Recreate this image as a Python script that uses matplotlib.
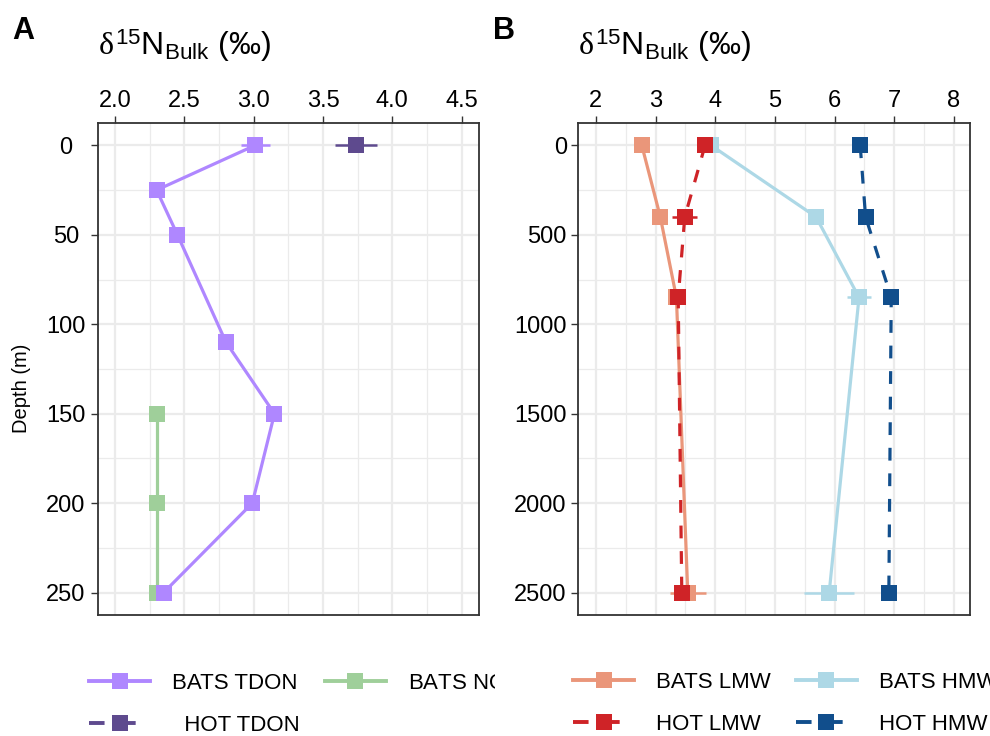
import matplotlib
matplotlib.use("Agg")
import matplotlib.pyplot as plt
from matplotlib.lines import Line2D
from matplotlib.transforms import Bbox
from matplotlib.ticker import MultipleLocator, FormatStrFormatter

plt.rcParams['font.family'] = ['Liberation Sans', 'DejaVu Sans']
plt.rcParams['mathtext.fontset'] = 'custom'
plt.rcParams['mathtext.rm'] = 'Liberation Sans'
plt.rcParams['mathtext.it'] = 'Liberation Serif'

# ---- panel A data (depth in m, d15N in permil) ----
bats_tdon_depth = [0, 25, 50, 110, 150, 200, 250]
bats_tdon_d15n = [3.01, 2.30, 2.45, 2.80, 3.15, 2.99, 2.35]
bats_tdon_err = [0.105, 0.0, 0.0, 0.02, 0.0, 0.02, 0.0]

bats_no3_depth = [150, 200, 250]
bats_no3_d15n = [2.30, 2.30, 2.30]
bats_no3_err = [0.0, 0.0, 0.0]

hot_tdon_depth = [0]
hot_tdon_d15n = [3.74]
hot_tdon_err = [0.15]

# ---- panel B data ----
mw_depth = [0, 400, 850, 2500]
bats_lmw = [2.77, 3.08, 3.35, 3.54]
bats_lmw_err = [0.0, 0.0, 0.0, 0.30]
hot_lmw = [3.83, 3.49, 3.38, 3.44]
hot_lmw_err = [0.0, 0.21, 0.03, 0.05]
bats_hmw = [3.93, 5.69, 6.41, 5.91]
bats_hmw_err = [0.0, 0.0, 0.20, 0.42]
hot_hmw = [6.43, 6.52, 6.95, 6.91]
hot_hmw_err = [0.0, 0.0, 0.0, 0.10]

c_bats_tdon = '#AF87FF'
c_hot_tdon = '#5E4A8E'
c_bats_no3 = '#9FCF9A'
c_bats_lmw = '#EA967A'
c_hot_lmw = '#CF2327'
c_bats_hmw = '#ADD8E6'
c_hot_hmw = '#114E8C'

dash = (0, (4, 4))
lw = 2.3
ms = 12

fig = plt.figure(figsize=(9.9, 7.36), dpi=100)
axA = fig.add_axes([0.0987, 0.1644, 0.3851, 0.6685])
axB = fig.add_axes([0.5838, 0.1644, 0.3960, 0.6685])


def series(ax, x, y, err, color, ls):
    ax.plot(x, y, color=color, lw=lw, ls=ls, zorder=2)
    ax.errorbar(x, y, xerr=err, fmt='none', ecolor=color, elinewidth=1.8, capsize=0, zorder=3)


def points(ax, x, y, color):
    ax.plot(x, y, ls='none', marker='s', ms=ms, mew=0, color=color, zorder=4)


series(axA, bats_no3_d15n, bats_no3_depth, bats_no3_err, c_bats_no3, '-')
series(axA, bats_tdon_d15n, bats_tdon_depth, bats_tdon_err, c_bats_tdon, '-')
series(axA, hot_tdon_d15n, hot_tdon_depth, hot_tdon_err, c_hot_tdon, dash)
points(axA, bats_no3_d15n, bats_no3_depth, c_bats_no3)
points(axA, bats_tdon_d15n, bats_tdon_depth, c_bats_tdon)
points(axA, hot_tdon_d15n, hot_tdon_depth, c_hot_tdon)

series(axB, bats_lmw, mw_depth, bats_lmw_err, c_bats_lmw, '-')
series(axB, bats_hmw, mw_depth, bats_hmw_err, c_bats_hmw, '-')
series(axB, hot_lmw, mw_depth, hot_lmw_err, c_hot_lmw, dash)
series(axB, hot_hmw, mw_depth, hot_hmw_err, c_hot_hmw, dash)
points(axB, bats_lmw, mw_depth, c_bats_lmw)
points(axB, bats_hmw, mw_depth, c_bats_hmw)
points(axB, hot_lmw, mw_depth, c_hot_lmw)
points(axB, hot_hmw, mw_depth, c_hot_hmw)

axA.set_xlim(1.875, 4.625)
axA.set_ylim(262.5, -12.5)
axA.xaxis.set_major_locator(MultipleLocator(0.5))
axA.xaxis.set_minor_locator(MultipleLocator(0.25))
axA.yaxis.set_major_locator(MultipleLocator(50))
axA.yaxis.set_minor_locator(MultipleLocator(25))
axA.xaxis.set_major_formatter(FormatStrFormatter('%.1f'))
axA.set_ylabel('Depth (m)', fontsize=14.5)
axA.yaxis.set_label_coords(-0.176, 0.461)

axB.set_xlim(1.70, 8.27)
axB.set_ylim(2625, -125)
axB.xaxis.set_major_locator(MultipleLocator(1))
axB.xaxis.set_minor_locator(MultipleLocator(0.5))
axB.yaxis.set_major_locator(MultipleLocator(500))
axB.yaxis.set_minor_locator(MultipleLocator(250))

title = r'$\delta^{15}\mathrm{N}_{\mathrm{Bulk}}$ (‰)'
for ax, letter in [(axA, 'A'), (axB, 'B')]:
    ax.grid(which='major', color='#EBEBEB', lw=1.6, zorder=0)
    ax.grid(which='minor', color='#EBEBEB', lw=0.9, zorder=0)
    ax.set_axisbelow(True)
    ax.xaxis.tick_top()
    ax.tick_params(which='major', labelsize=17, length=5, width=1, color='#333333', pad=3)
    ax.tick_params(which='minor', length=0)
    for s in ax.spines.values():
        s.set_color('#333333')
        s.set_linewidth(1.3)
    x0 = ax.get_position().x0
    fig.text(x0, 0.938, title, fontsize=23, ha='left', va='center')
    fig.text(x0 - 0.086, 0.958, letter, fontsize=22, fontweight='bold', ha='left', va='center')

# panel A depth labels are centred under each other
axA.tick_params(axis='y', pad=17.8)
for t in axA.get_yticklabels():
    t.set_ha('center')

hA = [Line2D([], [], color=c_bats_tdon, lw=2.8, marker='s', ms=ms, mew=0),
      Line2D([], [], color=c_hot_tdon, lw=2.8, ls=dash, marker='s', ms=ms, mew=0),
      Line2D([], [], color=c_bats_no3, lw=2.8, marker='s', ms=ms, mew=0)]
lA = ['BATS TDON', '  HOT TDON', r'BATS NO$_3^-$']
hB = [Line2D([], [], color=c_bats_lmw, lw=2.8, marker='s', ms=ms, mew=0),
      Line2D([], [], color=c_hot_lmw, lw=2.8, ls=dash, marker='s', ms=ms, mew=0),
      Line2D([], [], color=c_bats_hmw, lw=2.8, marker='s', ms=ms, mew=0),
      Line2D([], [], color=c_hot_hmw, lw=2.8, ls=dash, marker='s', ms=ms, mew=0)]
lB = ['BATS LMW', 'HOT LMW', 'BATS HMW', 'HOT HMW']

kw = dict(loc='upper left', ncol=2, frameon=False, fontsize=16, handlelength=2.75,
          handletextpad=1.0, columnspacing=1.1, labelspacing=0.95, borderpad=0,
          borderaxespad=0, bbox_transform=fig.transFigure)
legA = fig.legend(hA, lA, bbox_to_anchor=(89 / 990, 1 - 672 / 736), **kw)
legB = fig.legend(hB, lB, bbox_to_anchor=(573 / 990, 1 - 672 / 736), **kw)

# legend A is cut off at the middle of the figure, as in the original
clip = Bbox.from_extents(0, 0, 495, 736)
for t in legA.get_texts():
    t.set_clip_box(clip)
    t.set_clip_on(True)

fig.savefig('out.png', dpi=100)
